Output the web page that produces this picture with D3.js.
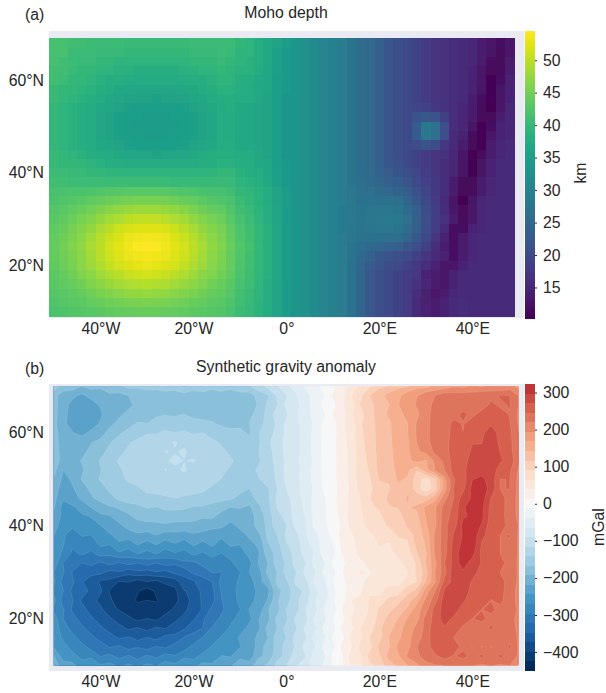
<!DOCTYPE html>
<html>
<head>
<meta charset="utf-8">
<script src="https://cdn.jsdelivr.net/npm/d3@7"></script>
<style>
  html, body { margin: 0; padding: 0; background: #fff; }
  svg { display: block; }
  text { font-family: "Liberation Sans", Arial, sans-serif; font-size: 15.8px; fill: #262626; }
</style>
</head>
<body>
<svg id="chart" width="606" height="693"></svg>
<script>
const lonTicks = [-40, -20, 0, 20, 40];
const lonLabels = ["40°W", "20°W", "0°", "20°E", "40°E"];
const latTicks = [20, 40, 60];
const latLabels = ["20°N", "40°N", "60°N"];
const mohoTicks = [15, 20, 25, 30, 35, 40, 45, 50];
const gravityTicks = [-400, -300, -200, -100, 0, 100, 200, 300];

// moho: cell centres, lon -50..48 and lat 68..10, every 2 degrees, km
const mohoLon0 = -50, mohoLat0 = 68;
const moho = [
[41.5,41.5,41,41,40.5,40.5,40.5,40.5,40,40,40,40,40,40,40,40.5,40.5,40.5,40.5,40.5,39.5,39,38,37,36,34.5, 33.5,32.5,31.5,30.5,29.5,28.5,27.5,26,25,23.5,22,21,20,19,18,17,16.5,16,15.8,15.2,14,12.8,12,13],
[41.5,41.5,40.5,40.5,40.5,40,40,40,39.5,39.5,39.5,39.5,39.5,39.5,39.5,40,40,40,40.5,40,39,39,38,37,35.5,34, 33.5,32.5,31.5,30.5,29.5,28.5,27.5,26,25,23.5,22,21,20,19,18,17,16.5,16,15.8,15,13.8,12.5,11.5,13],
[41.5,41,40.5,40,40,39.5,39.5,39,39,39,39,39,39,39,39,39.5,39.5,39.5,40,39.5,39,38.5,38,37,35.5,34, 33.5,32.5,31.5,30.5,29.5,28.5,27.5,26,25,23.5,22,21,20,19,18,17,16.5,16,15.7,15,13.5,12,11,13.3],
[41,41,40,39.5,39.5,39,39,38.5,38.5,38,38,38,38,38,38.5,38.5,39,39,39.5,39,38.5,38.5,37.5,36.5,35.5,34, 33.5,32.5,31.5,30.5,29.5,28.5,27.5,26,25,23.5,22,21,20,19,18,17,16.5,16,15.5,14.5,13,11,11.5,14],
[41,40.5,39.5,39.5,39,38.5,38,38,37.5,37.5,37.5,37.5,37.5,37.5,37.5,38,38,38.5,39,39,38,38,37,36.5,35,34, 33.5,32.5,31.5,30.5,29.5,28.5,27.5,26,25,23.5,22,21,20,19,18,17,16.5,16,15.5,14.5,12.8,10.8,12,14.3],
[40,39.5,39.5,39,38.5,38,37.5,37,37,36.5,36.5,36.5,36.5,36.5,37,37,37.5,38,38.5,38.5,38,37.5,37,36.5,35,34, 33.5,32.5,31.5,30.5,29.5,28.5,27.5,26,25,23.5,22,21,20,19,18,17,16.5,16,15.5,14.3,12.5,10.5,12.5,14.5],
[40,39.5,39,38.5,38,37.5,37,36.5,36,36,36,35.5,36,36,36,36.5,37,37.5,38,38,37.5,37.5,37,36,35,33.5, 33.5,32.5,31.5,30.5,29.5,28.5,27.5,26,25,23.5,22,21,20,19,18,17,16.5,16,15.5,14,12.3,10.5,12.5,14.5],
[39.5,39,38.5,38,37.5,37,36.5,36,35.5,35,35,35,35,35,35.5,36,36.5,37,37.5,38,37,37,36.5,36,35,33.5, 33.5,32.5,31.5,30.5,29.5,28.5,27.5,26,25,23.5,22,21,20,19.3,18.7,17.7,16.6,16,15.3,14,11.5,10.8,13,14.8],
[39.5,39,38.5,38,37.5,36.5,36,35.5,35,35,34.5,34.5,34.5,35,35,35.5,36,36.5,37.5,37.5,37,37,36.5,36,35,33.5, 33.5,32.5,31.5,30.5,29.5,28.5,27.5,26,25,23.5,22,21,20,21.5,22.5,21.5,18.5,16,15,13.5,11.3,11,13.5,15],
[39.5,39,38.5,38,37.5,36.5,36,35.5,35,34.5,34.5,34.5,34.5,34.5,35,35.5,36,36.5,37.5,37.5,37,37,36.5,36,35,33.5, 33.5,32.5,31.5,30.5,29.5,28.5,27.5,26,25,23.5,22,21,20.3,23,28,26.5,21,16,14.8,12.5,10.5,12.3,14.5,15.3],
[39.5,39,38.5,38,37.5,36.5,36,35.5,35,35,34.5,34.5,34.5,35,35,35.5,36,36.5,37.5,37.5,37,37,36.5,36,35,33.5, 33.5,32.5,31.5,30.5,29.5,28.5,27.5,26,25,23.5,22,21,20.3,23,28,26.5,21,15.7,14.2,11.5,10.5,13,14.7,15.3],
[39.5,39,38.5,38,37.5,37,36.5,36,35.5,35,35,35,35,35,35.5,36,36.5,37,37.5,38,37,37,36.5,36,35,33.5, 33.5,32.5,31.5,30.5,29.5,28.5,27.5,26,25,23.5,22,21,20,20.5,21.5,20.5,17.5,15.5,13.5,11,10.8,13.5,15,15.4],
[40,39.5,39,38.5,38,37.5,37.5,37,36.5,36.5,36.5,36,36.5,36.5,36.5,37,37.5,38,38,38,37.5,37.5,37,36,35,33.5, 33.5,32.5,31.5,30.5,29.5,28.5,27.5,26,25,23.5,22,21,20,19,18,17,16.5,15,13,10.8,11.2,14,15.2,15.5],
[40,39.5,39.5,39.5,39,38.5,38,38,37.5,37.5,37.5,37.5,37.5,37.5,37.5,37.5,38,38,38.5,38.5,38,38,37,36.5,35,34, 33.5,32.5,31.5,30.5,29.5,28.5,27.5,26,25,23.6,22.2,21.3,20.2,19.1,18,17,16.3,14.8,12.5,10.5,12.5,14.7,15.5,15.5],
[40.5,40.5,40,40,39.5,39.5,39,39,39,39,39,39,39,39,39,39,39,39,39.5,39.5,38.5,38,37.5,36.5,35.5,34, 33.5,32.5,31.5,30.5,29.5,28.5,27.5,26,25.4,24.1,22.9,22,20.9,19.6,18.4,17,16.3,14.8,12.5,10.5,12.5,14.7,15.5,15.5],
[41,41,40.5,40.5,40.5,40.5,40.5,40.5,40.5,40.5,40.5,40.5,40.5,40,40,40,40,40,40,40,39,38.5,38,37,35.5,34, 33.5,32.5,31.5,30.5,29.5,28.5,27.5,26.4,25.8,24.8,23.8,23,21.8,20.3,18.8,17.4,16,14,11.5,11,13.5,15,15.5,15.5],
[41.5,41.7,41.9,42,42.2,42.5,42.7,42.9,43,43.1,43.1,43,43,42.6,42.3,42.1,41.8,41.5,41.4,40.7,39.7,39.2,38.5,37.5,36,34.5, 33.5,32.5,31.5,30.5,29.5,28.5,27.8,26.7,26.4,25.8,25.1,24.4,23.1,21.3,19.4,17.7,16.3,14,11,11.2,14,15.2,15.5,15.5],
[42,42.4,42.7,43.1,43.6,44.1,44.6,45,45.3,45.5,45.5,45.4,45.2,44.8,44.3,43.8,43.3,42.7,42.4,41.6,40.2,39.6,38.6,37.5,36,34.5, 33.5,32.5,31.5,30.5,29.5,28.5,27.9,27,27.1,26.9,26.6,26.1,24.6,22.4,20.1,18,15.8,13,10.8,12.5,14.8,15.5,15.5,15.5],
[42.6,43.1,43.7,44.3,45.1,45.8,46.6,47.2,47.7,48,48.1,47.9,47.6,47.1,46.4,45.6,44.8,44,43.5,42.4,40.9,40.1,38.8,37.7,36.2,34.6, 33.5,32.5,31.5,30.5,29.5,28.7,28,27.3,27.6,27.8,27.8,27.4,25.8,23.3,20.6,18.3,16,13,11,12.8,14.8,15.5,15.5,15.5],
[43.1,43.7,44.6,45.4,46.3,47.3,48.3,49.1,49.9,50.2,50.4,50.2,49.8,49.1,48.3,47.3,46.3,45.4,44.6,43.1,41.5,40.4,39.1,37.9,36.3,34.7, 33.5,32.5,31.5,30.5,29.5,28.7,28.1,27.4,27.9,28.2,28.3,28,26.3,23.7,20.9,18.4,16.8,13.5,11.5,13,15,15.5,15.5,15.5],
[43.5,44.3,45.2,46.3,47.4,48.7,49.9,50.9,51.8,52.2,52.4,52.2,51.8,50.9,49.9,48.7,47.4,46.3,45.2,43.7,41.9,40.9,39.5,38.2,36.5,34.8, 33.5,32.5,31.5,30.5,29.5,28.7,28,27.3,27.6,27.8,27.8,27.4,25.8,23.3,20.6,18.3,15.5,12.3,12.3,14.5,15.3,15.5,15.5,15.5],
[43.8,44.7,45.7,46.8,48.2,49.6,51,52,53,53.5,53.7,53.5,53,52,51,49.6,48.2,46.8,45.7,44,42.2,41.1,39.6,38.3,36.5,34.8, 33.5,32.5,31.5,30.5,29.5,28.5,27.9,27,27.1,26.9,26.6,26.1,24.6,22.4,20.1,17,14.3,12,13.5,15,15.5,15.5,15.5,15.5],
[44,44.9,46,47.2,48.7,50,51.5,52.6,53.6,54.2,54.4,54.2,53.6,52.6,51.5,50,48.7,47.2,46,44.4,42.5,41.3,39.7,38.3,36.5,34.8, 33.5,32.5,31.5,30.5,29.5,28.5,27.5,26,25.5,24.8,24,23.5,22,20.5,18.5,16.3,14,12,13.7,15,15.5,15.5,15.5,15.5],
[43.9,44.8,45.8,46.9,48.3,49.7,51.1,52.1,53.1,53.6,53.8,53.6,53.1,52.1,51.1,49.7,48.3,46.9,45.8,44,42.3,41.1,39.6,38.3,36.5,34.8, 33.5,32.5,31.5,30.5,29.5,28.5,27.5,25.5,24,22.5,21.5,21,19.8,18.5,17,15.8,14.2,12.3,14,15.2,15.5,15.5,15.5,15.5],
[43.7,44.5,45.5,46.6,47.8,49.1,50.4,51.4,52.3,52.8,53,52.8,52.3,51.4,50.4,49.1,47.8,46.6,45.5,44,42.2,41.1,39.6,38.2,36.5,34.8, 33.5,32.5,31.5,30.5,29.5,28.5,27,24.8,23,21.8,20.7,19.9,18.8,17.5,16,14.7,12.8,12.8,14.6,15.5,15.5,15.5,15.5,15.5],
[43.4,44.1,45,45.9,46.9,48,49.1,50,50.8,51.2,51.4,51.2,50.8,50,49.1,48,46.9,45.9,45,43.6,41.9,40.8,39.4,38.1,36.4,34.8, 33.5,32.5,31.5,30.5,29.5,28.5,27,24.5,22.5,21,20,19,18,17.3,14.6,13.5,12.8,14.2,15.5,15.5,15.5,15.5,15.5,15.5],
[43,43.6,44.3,45,45.9,46.8,47.7,48.4,49,49.3,49.5,49.3,49,48.4,47.7,46.8,45.9,45,44.3,43.1,41.5,40.6,39.2,38,36.3,34.7, 33.5,32.5,31.5,30.5,29.5,28.5,27,24.5,22.5,21,20,19,18,16.8,14.8,13.6,13,14.4,15.6,15.5,15.5,15.5,15.5,15.5],
[42.6,43.1,43.6,44.1,44.8,45.5,46.1,46.7,47.1,47.4,47.5,47.4,47.1,46.7,46.1,45.5,44.8,44.1,43.6,42.6,41.1,40.3,39,37.9,36.2,34.6, 33.5,32.5,31.5,30.5,29.5,28.5,27,24.5,22.5,21,20,19,18,16.3,14.2,13.2,13.5,15,15.8,15.5,15.5,15.5,15.5,15.5],
[42.3,42.6,43,43.4,43.8,44.3,44.7,45.1,45.5,45.6,45.7,45.6,45.5,45.1,44.7,44.3,43.8,43.4,43,42.1,40.8,40.1,38.9,37.8,36.2,34.6, 33.5,32.5,31.5,30.5,29.5,28.5,27,24.5,22.5,21,20,19,18,15.5,14.2,13.5,14.5,15.6,16,15.5,15.5,15.5,15.5,15.5],
[42,42.2,42.5,42.7,43,43.4,43.7,43.9,44.1,44.2,44.3,44.2,44.1,43.9,43.7,43.4,43,42.7,42.5,41.7,40.5,39.9,38.8,37.7,36.1,34.6, 33.5,32.5,31.5,30.5,29.5,28.5,27,24.5,22.5,21,20,19,18,15.5,14.5,14,14.7,15.8,16,15.5,15.5,15.5,15.5,15.5]
];

// gravity: grid nodes, lon -50..50 and lat 70..10, every 2 degrees, mGal
const gravLon0 = -50, gravLat0 = 70;
const gravity = [
[-155,-176,-180,-192,-185,-187,-172,-172,-160,-161,-153,-156,-150,-154,-145,-153,-150,-156,-150,-156,-150, -145,-125,-108,-92,-66,-60,-34,-24,-4,7,32,45, 76,88,112,117,136,140,160,160,176,178,192,188,199,192,202,196,205,185],
[-183,-208,-212,-225,-210,-214,-199,-202,-193,-193,-186,-187,-183,-184,-175,-186,-178,-189,-181,-191,-178, -180,-158,-145,-112,-92,-66,-54,-24,-14,16,29,64, 86,118,131,154,161,186,191,214,220,238,232,236,232,241,238,248,246,218],
[-186,-205,-229,-228,-233,-215,-218,-198,-201,-185,-190,-178,-187,-175,-183,-175,-188,-178,-189,-177,-187, -173,-166,-136,-118,-82,-77,-44,-33,-6,5,36,52, 94,104,137,140,168,170,198,204,230,228,238,232,246,230,252,240,248,218],
[-181,-214,-225,-242,-229,-223,-205,-199,-185,-184,-173,-173,-168,-171,-167,-174,-170,-179,-176,-181,-178, -178,-151,-136,-98,-94,-66,-58,-24,-17,14,24,62, 79,113,122,149,154,180,185,218,222,242,237,252,238,256,250,258,244,214],
[-186,-211,-233,-239,-235,-216,-202,-184,-180,-164,-167,-154,-160,-155,-160,-158,-165,-164,-172,-171,-175, -167,-156,-128,-112,-82,-77,-45,-36,-6,3,34,50, 89,100,132,135,165,166,196,208,236,234,252,244,258,268,266,264,248,216],
[-180,-212,-217,-228,-211,-207,-180,-174,-156,-156,-143,-144,-134,-141,-135,-145,-141,-155,-153,-164,-159, -172,-143,-130,-106,-84,-78,-46,-35,-7,2,33,50, 88,99,131,134,164,166,196,209,238,234,254,246,264,264,291,259,251,220],
[-186,-201,-210,-201,-195,-184,-170,-151,-145,-134,-132,-121,-120,-114,-120,-121,-128,-134,-145,-146,-152, -156,-146,-120,-104,-80,-76,-46,-34,-5,4,33,47, 87,98,130,132,161,164,194,207,236,236,256,250,270,270,294,264,254,222],
[-179,-204,-200,-201,-185,-179,-157,-149,-136,-136,-123,-124,-115,-117,-113,-122,-119,-132,-135,-147,-145, -152,-142,-125,-105,-81,-76,-45,-35,-6,3,32,46, 85,97,127,131,159,163,190,201,226,231,261,257,276,277,296,270,256,220],
[-186,-198,-202,-191,-185,-164,-155,-138,-138,-128,-125,-116,-118,-111,-116,-114,-120,-121,-135,-138,-148, -146,-145,-126,-108,-84,-74,-45,-36,-6,3,31,46, 84,95,126,129,156,160,178,165,200,227,258,260,284,283,296,275,262,225],
[-185,-219,-203,-197,-177,-169,-150,-146,-133,-135,-121,-124,-115,-120,-113,-122,-119,-131,-133,-146,-143, -148,-138,-128,-110,-82,-77,-44,-34,-7,5,29,45, 82,93,124,125,152,150,118,160,196,220,256,263,291,287,291,257,251,215],
[-196,-225,-216,-191,-180,-164,-156,-144,-140,-131,-128,-121,-122,-118,-122,-121,-128,-131,-142,-144,-150, -144,-143,-129,-112,-83,-75,-45,-34,-7,3,30,45, 81,90,118,120,146,140,105,78,110,185,244,260,296,303,288,245,246,212],
[-197,-240,-221,-208,-185,-179,-161,-158,-144,-146,-133,-138,-128,-134,-128,-137,-135,-146,-145,-157,-157, -168,-152,-144,-116,-89,-78,-47,-36,-9,2,26,43, 78,85,110,113,136,135,105,72,105,180,246,265,306,307,291,245,246,212],
[-211,-240,-235,-211,-198,-181,-175,-161,-158,-149,-150,-144,-145,-141,-145,-144,-152,-151,-160,-161,-176, -178,-158,-147,-111,-100,-72,-58,-30,-18,9,20,52, 66,91,98,123,128,145,131,125,156,210,246,285,300,311,271,255,236,212],
[-215,-256,-247,-239,-218,-211,-195,-191,-175,-175,-165,-168,-161,-165,-162,-169,-169,-179,-180,-193,-190, -198,-173,-150,-114,-105,-76,-60,-29,-19,8,19,51, 64,87,94,115,118,141,146,175,191,231,251,295,306,305,264,255,236,212],
[-227,-252,-266,-247,-244,-222,-222,-202,-201,-182,-186,-172,-181,-172,-184,-177,-191,-187,-206,-207,-211, -199,-188,-153,-126,-106,-78,-63,-31,-19,7,18,55, 60,85,85,105,105,130,135,170,190,235,255,295,300,305,260,256,234,214],
[-225,-270,-266,-268,-248,-246,-225,-227,-208,-211,-199,-206,-197,-208,-200,-209,-201,-216,-213,-228,-211, -213,-178,-163,-123,-116,-82,-71,-32,-24,8,15,50, 53,77,77,95,95,120,127,165,190,240,260,305,310,295,257,256,238,218],
[-244,-267,-284,-269,-271,-249,-249,-231,-234,-221,-231,-219,-231,-224,-234,-221,-231,-224,-239,-229,-231, -214,-201,-161,-141,-111,-99,-67,-51,-19,-9,25,35, 57,60,77,73,93,95,130,150,200,233,275,300,320,275,265,245,246,215],
[-248,-269,-292,-279,-286,-266,-270,-251,-258,-243,-254,-243,-257,-247,-257,-241,-252,-240,-255,-241,-244, -227,-215,-170,-153,-117,-105,-71,-57,-23,-14,20,31, 52,53,67,63,83,87,123,145,200,235,280,305,315,270,263,245,245,215],
[-257,-275,-302,-293,-302,-287,-292,-275,-285,-270,-279,-270,-285,-273,-282,-265,-275,-260,-272,-257,-259, -237,-222,-177,-161,-123,-111,-77,-63,-27,-18,15,28, 48,45,60,55,73,77,113,140,200,235,285,310,305,265,263,245,245,215],
[-253,-297,-303,-323,-313,-327,-313,-325,-313,-323,-309,-322,-309,-318,-300,-303,-285,-289,-273,-278,-253, -253,-217,-193,-153,-139,-103,-92,-54,-42,-8,2,35, 33,50,43,57,53,77,93,145,187,245,280,310,285,270,253,255,235,215],
[-272,-293,-325,-325,-345,-340,-357,-350,-365,-353,-362,-350,-357,-340,-342,-317,-319,-295,-297,-275,-272, -245,-232,-185,-167,-130,-117,-83,-69,-33,-22,13,23, 42,37,50,42,57,60,95,130,195,235,290,293,285,257,263,245,245,215],
[-265,-307,-317,-347,-353,-379,-380,-402,-397,-412,-400,-407,-390,-389,-355,-352,-325,-322,-290,-287,-263, -260,-227,-207,-161,-147,-110,-99,-60,-47,-13,0,37, 33,50,43,57,53,77,90,145,190,255,280,295,267,267,253,255,235,215],
[-277,-295,-329,-330,-357,-368,-402,-403,-424,-423,-437,-421,-425,-407,-375,-367,-340,-329,-295,-285,-260, -262,-238,-226,-175,-157,-125,-112,-70,-57,-17,-2,37, 37,60,57,77,80,105,125,180,220,275,285,290,260,263,250,253,235,210],
[-263,-309,-320,-352,-357,-385,-393,-417,-413,-430,-425,-428,-413,-411,-380,-369,-343,-332,-297,-287,-263, -259,-233,-217,-170,-155,-120,-107,-65,-53,-15,1,39, 43,70,73,97,103,133,155,200,235,285,283,277,255,260,245,250,235,210],
[-275,-293,-327,-335,-362,-365,-397,-400,-418,-411,-419,-412,-413,-393,-385,-353,-347,-315,-305,-273,-272, -243,-237,-195,-177,-139,-127,-91,-75,-38,-26,14,28, 57,67,97,105,133,145,183,210,260,280,287,257,260,245,250,240,245,212],
[-257,-297,-307,-337,-340,-365,-367,-392,-390,-407,-398,-405,-385,-385,-357,-352,-323,-317,-287,-282,-255, -252,-220,-202,-160,-147,-110,-99,-60,-47,-13,3,43, 50,83,95,130,143,170,185,230,255,285,265,257,245,250,240,247,233,208],
[-262,-277,-309,-313,-339,-340,-362,-360,-379,-371,-383,-369,-375,-353,-352,-325,-322,-293,-292,-263,-259, -235,-225,-185,-167,-131,-119,-85,-70,-34,-22,17,33, 65,77,113,127,163,173,203,227,267,267,260,240,245,235,250,235,243,208],
[-243,-279,-285,-312,-313,-335,-333,-352,-345,-359,-347,-357,-340,-345,-320,-319,-295,-292,-267,-265,-240, -243,-207,-193,-153,-141,-105,-95,-57,-46,-9,6,47, 60,93,107,143,160,190,200,240,253,267,245,245,225,243,222,245,238,215],
[-247,-257,-285,-285,-307,-305,-325,-317,-333,-323,-335,-320,-327,-310,-312,-287,-289,-267,-269,-245,-247, -226,-215,-176,-163,-125,-114,-79,-67,-31,-20,21,38, 75,85,125,138,175,183,219,231,262,248,257,238,247,218,247,223,250,215],
[-218,-257,-258,-282,-275,-297,-289,-305,-293,-307,-291,-303,-285,-295,-275,-282,-261,-267,-243,-247,-225, -237,-198,-187,-148,-137,-98,-92,-53,-45,-5,8,55, 63,102,113,152,163,197,208,242,241,257,243,255,235,252,233,252,238,215],
[-205,-232,-238,-255,-252,-268,-263,-275,-266,-275,-266,-272,-258,-265,-250,-250,-238,-238,-222,-222,-205, -205,-178,-162,-135,-115,-92,-76,-52,-35,-8,12,45, 62,85,103,128,148,168,190,205,218,220,225,220,222,215,222,215,220,190]
];

const nLevels = 30, gravMin = -451, gravMax = 323;
const levels = d3.range(nLevels + 1).map(i => gravMin + i * (gravMax - gravMin) / nLevels);

const svg = d3.select("#chart");
const x = d3.scaleLinear().domain([-51.06, 51.1]).range([49, 524]);
const yA = d3.scaleLinear().domain([8.65, 70.57]).range([318, 31]);
const yB = d3.scaleLinear().domain([8.8, 70.5]).range([671, 384]);

const mohoColor = d3.scaleSequential(d3.interpolateViridis).domain([10.3, 54.5]);
// same 11 stops as matplotlib RdBu_r
const rdbu = d3.piecewise(d3.interpolateRgb, d3.schemeRdBu[11].slice().reverse());
const gravColor = v => rdbu(0.5 + v / 860);

function drawFrame(y, label, title, titleY, labelY) {
    svg.append("rect").attr("x", 49).attr("y", y.range()[1])
        .attr("width", 475).attr("height", y.range()[0] - y.range()[1])
        .attr("fill", "#eaeaf2");
    svg.append("text").attr("x", 286).attr("y", titleY).attr("text-anchor", "middle").text(title);
    svg.append("text").attr("x", 25).attr("y", labelY).text(label);
}

function drawAxes(y) {
    const bottom = y.range()[0];
    const ax = svg.append("g").attr("transform", `translate(0,${bottom})`)
        .call(d3.axisBottom(x).tickValues(lonTicks).tickSize(0).tickPadding(3)
            .tickFormat((d, i) => lonLabels[i]));
    ax.select(".domain").remove();
    ax.selectAll("text").attr("y", 0).attr("dy", "15.8px");

    const ay = svg.append("g").attr("transform", "translate(49,0)")
        .call(d3.axisLeft(y).tickValues(latTicks).tickSize(0).tickPadding(5)
            .tickFormat((d, i) => latLabels[i]));
    ay.select(".domain").remove();
}

function drawColorbarAxis(scale, ticks, unit, unitX, unitY) {
    const ax = svg.append("g").attr("transform", "translate(535,0)")
        .call(d3.axisRight(scale).tickValues(ticks).tickSize(2).tickPadding(6)
            .tickFormat(d => String(d).replace("-", "\u2212")));
    ax.select(".domain").remove();
    ax.selectAll("line").attr("stroke", "#262626").attr("stroke-width", 1);
    svg.append("text").attr("transform", `translate(${unitX},${unitY}) rotate(-90)`)
        .attr("text-anchor", "middle").text(unit);
}

svg.append("filter").attr("id", "soft")
    .attr("x", "-1%").attr("y", "-1%").attr("width", "102%").attr("height", "102%")
    .append("feGaussianBlur").attr("stdDeviation", 0.45);

// panel a
drawFrame(yA, "(a)", "Moho depth", 18, 20);

const cells = moho.flatMap((row, j) => row.map((v, i) => ({
    lon: mohoLon0 + i * 2, lat: mohoLat0 - j * 2, v
})));
svg.append("g").attr("filter", "url(#soft)").attr("shape-rendering", "crispEdges").selectAll("rect")
    .data(cells)
    .enter().append("rect")
    .attr("x", d => x(d.lon - 1))
    .attr("y", d => yA(d.lat + 1))
    .attr("width", d => x(d.lon + 1) - x(d.lon - 1) + 0.5)
    .attr("height", d => yA(d.lat - 1) - yA(d.lat + 1) + 0.5)
    .attr("fill", d => mohoColor(d.v));

drawAxes(yA);

const cbarA = d3.scaleLinear().domain([10.3, 54.5]).range([318, 31]);
svg.append("g").attr("shape-rendering", "crispEdges").selectAll("rect")
    .data(d3.range(0, 287))
    .enter().append("rect")
    .attr("x", 525).attr("width", 10)
    .attr("y", d => 31 + d).attr("height", 1.5)
    .attr("fill", d => mohoColor(cbarA.invert(31 + d + 0.5)));
drawColorbarAxis(cbarA, mohoTicks, "km", 586, 173);

// panel b
drawFrame(yB, "(b)", "Synthetic gravity anomaly", 372, 374);

const nx = gravity[0].length, ny = gravity.length;
gravity.forEach((row, j) => { if (row.length !== nx) throw new Error("gravity row " + j + " has " + row.length); });
moho.forEach((row, j) => { if (row.length !== 50) throw new Error("moho row " + j + " has " + row.length); });

const contours = d3.contours().size([nx, ny]).thresholds(levels.slice(0, nLevels))(gravity.flat());
const project = d3.geoTransform({
    point(px, py) {
        this.stream.point(x(gravLon0 + (px - 0.5) * 2), yB(gravLat0 - (py - 0.5) * 2));
    }
});
const path = d3.geoPath(project);

svg.append("clipPath").attr("id", "grav-clip").append("rect")
    .attr("x", x(-50)).attr("y", yB(70))
    .attr("width", x(50) - x(-50)).attr("height", yB(10) - yB(70));

svg.append("g").attr("clip-path", "url(#grav-clip)").selectAll("path")
    .data(contours)
    .enter().append("path")
    .attr("d", path)
    .attr("fill", (d, i) => gravColor((levels[i] + levels[i + 1]) / 2))
    .attr("stroke", "#fff").attr("stroke-opacity", 0.22).attr("stroke-width", 0.5);

drawAxes(yB);

const cbarB = d3.scaleLinear().domain([gravMin, gravMax]).range([671, 384]);
svg.append("g").selectAll("rect")
    .data(d3.range(nLevels))
    .enter().append("rect")
    .attr("x", 525).attr("width", 10)
    .attr("y", i => cbarB(levels[i + 1]))
    .attr("height", i => cbarB(levels[i]) - cbarB(levels[i + 1]))
    .attr("fill", i => gravColor((levels[i] + levels[i + 1]) / 2))
    .attr("shape-rendering", "crispEdges");
drawColorbarAxis(cbarB, gravityTicks, "mGal", 604, 527);
</script>
</body>
</html>
